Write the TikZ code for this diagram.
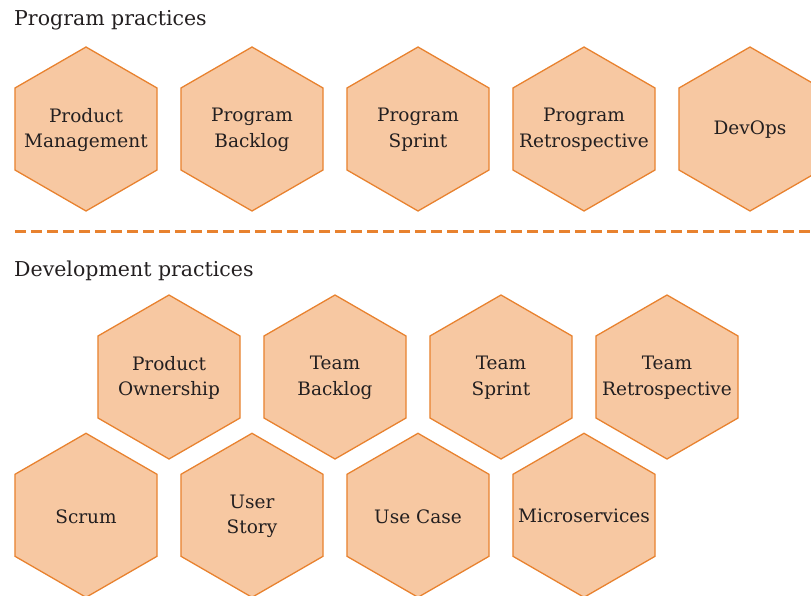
\documentclass[tikz,border=0pt]{standalone}
\usepackage{fontspec}
\setmainfont{DejaVu Serif}
\usetikzlibrary{shapes.geometric}
\definecolor{hexfill}{HTML}{F7C8A2}
\definecolor{hexline}{HTML}{E8822F}
\definecolor{txt}{HTML}{231F20}
\tikzset{
  hexa/.style={regular polygon, regular polygon sides=6, shape border rotate=30,
    minimum size=164pt, inner sep=0pt, outer sep=0pt, fill=hexfill, draw=hexline,
    line width=1.3pt},
  lbl/.style={align=center, text=txt, inner sep=0pt,
    font=\fontsize{18.5}{25.7}\selectfont},
  heading/.style={anchor=base west, inner sep=0pt, text=txt,
    font=\fontsize{20.5}{24}\selectfont},
  sep/.style={draw=hexline, line width=2.6pt, dash pattern=on 11pt off 5pt}
}
\begin{document}
\begin{tikzpicture}[x=1pt,y=-1pt]
\useasboundingbox (0,0) rectangle (811,596);
\node[heading] (h1) at (14,25.7) {Program practices};
\node[heading] (h2) at (14,276) {Development practices};
\coordinate (s1) at (15,231.7);
\coordinate (s2) at (811,231.7);
\draw[sep] (s1) -- (s2);
% row 1
\node[hexa] (pm) at (86,129) {};
\node[hexa] (pb) at (252,129) {};
\node[hexa] (ps) at (418,129) {};
\node[hexa] (pr) at (584,129) {};
\node[hexa] (do) at (750,129) {};
% row 2
\node[hexa] (po) at (169,377) {};
\node[hexa] (tb) at (335,377) {};
\node[hexa] (ts) at (501,377) {};
\node[hexa] (tr) at (667,377) {};
% row 3
\node[hexa] (sc) at (86,515.3) {};
\node[hexa] (us) at (252,515.3) {};
\node[hexa] (uc) at (418,515.3) {};
\node[hexa] (ms) at (584,515.3) {};
% labels
\node[lbl] (pm-t) at ([yshift=-1pt]pm) {Product\\Management};
\node[lbl] (pb-t) at ([yshift=-1pt]pb) {Program\\Backlog};
\node[lbl] (ps-t) at ([yshift=-1pt]ps) {Program\\Sprint};
\node[lbl] (pr-t) at ([yshift=-1pt]pr) {Program\\Retrospective};
\node[lbl] (do-t) at ([yshift=-1pt]do) {DevOps};
\node[lbl] (po-t) at ([yshift=-1pt]po) {Product\\Ownership};
\node[lbl] (tb-t) at ([yshift=-1pt]tb) {Team\\Backlog};
\node[lbl] (ts-t) at ([yshift=-1pt]ts) {Team\\Sprint};
\node[lbl] (tr-t) at ([yshift=-1pt]tr) {Team\\Retrospective};
\node[lbl] (sc-t) at ([yshift=-1pt]sc) {Scrum};
\node[lbl] (us-t) at ([yshift=-1pt]us) {User\\Story};
\node[lbl] (uc-t) at ([yshift=-1pt]uc) {Use Case};
\node[lbl] (ms-t) at ([yshift=-1pt]ms) {Microservices};
\end{tikzpicture}
\end{document}
